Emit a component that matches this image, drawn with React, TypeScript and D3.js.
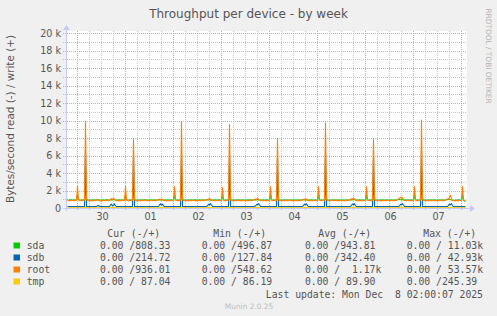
import React from 'react';
import * as d3 from 'd3';

const W = 497;
const H = 316;

const TITLE = 'Throughput per device - by week';
const Y_TITLE = 'Bytes/second read (-) / write (+)';
const WATERMARK = 'RRDTOOL / TOBI OETIKER';
const FOOTER = 'Munin 2.0.25';
const LAST_UPDATE = 'Last update: Mon Dec  8 02:00:07 2025';

// x axis day labels (noon of each day)
const DAY_LABELS = ['30', '01', '02', '03', '04', '05', '06', '07'];
const DAY_NOONS = [
  '2025-11-30T12:00', '2025-12-01T12:00', '2025-12-02T12:00', '2025-12-03T12:00',
  '2025-12-04T12:00', '2025-12-05T12:00', '2025-12-06T12:00', '2025-12-07T12:00',
];
// y ticks in thousands of bytes/s
const Y_TICKS = [0, 2, 4, 6, 8, 10, 12, 14, 16, 18, 20];

// time window
const VIEW_START = '2025-11-29T18:45';
const VIEW_END = '2025-12-08T02:45';
const DATA_START = '2025-11-29T19:00';
const STEP_MIN = 30; // sda, sdb, root sampled every 30 minutes
const TMP_STEP_MIN = 60; // tmp sampled hourly

const SERIES = ['sda', 'sdb', 'root', 'tmp'];
const COLORS = ['#00cc00', '#0066b3', '#ff8000', '#ffcc00'];

// write throughput in k bytes/s, every 30 min from Nov 29 19:00
const SDA = [
  0.98, 0.97, 0.97, 0.98, 0.99, 0.97, 0.96, 0.97, 0.98, 0.97,
  // Nov 30
  1.55, 1.0, 0.97, 0.96, 0.98, 0.97, 0.96, 0.98,
  2.6, 1.02, 0.97, 0.96, 0.97, 0.98, 0.96, 0.97,
  0.98, 0.96, 0.97, 0.99, 0.97, 0.96, 0.98, 0.97,
  0.96, 0.97, 0.98, 0.96, 0.97, 0.99, 0.97, 0.96,
  0.97, 0.98, 1.0, 0.99, 1.02, 1.0, 0.97, 0.96,
  0.97, 0.98, 0.96, 0.97, 0.98, 0.96, 0.97, 0.98,
  // Dec 1
  1.5, 0.99, 0.96, 0.97, 0.98, 0.96, 0.97, 0.98,
  2.5, 1.01, 0.96, 0.97, 0.98, 0.97, 0.96, 0.97,
  0.97, 0.98, 0.96, 0.97, 0.99, 0.97, 0.96, 0.98,
  0.97, 0.96, 0.98, 0.97, 0.96, 0.98, 0.97, 0.97,
  0.98, 0.97, 0.99, 1.01, 0.98, 1.0, 0.96, 0.97,
  0.96, 0.97, 0.98, 0.96, 0.97, 0.98, 0.97, 0.96,
  // Dec 2
  0.97, 1.6, 0.99, 0.96, 0.97, 0.98, 0.96, 0.97,
  2.6, 1.0, 0.97, 0.98, 0.96, 0.97, 0.98, 0.96,
  0.97, 0.96, 0.98, 0.97, 0.96, 0.97, 0.99, 0.97,
  0.98, 0.97, 0.96, 0.98, 0.97, 0.96, 0.97, 0.98,
  0.97, 0.99, 1.01, 0.98, 1.0, 0.99, 0.97, 0.96,
  0.98, 0.96, 0.97, 0.98, 0.96, 0.97, 0.97, 0.98,
  // Dec 3
  0.96, 1.5, 0.98, 0.97, 0.96, 0.98, 0.97, 0.96,
  2.55, 1.01, 0.96, 0.97, 0.98, 0.96, 0.97, 0.98,
  0.96, 0.98, 0.97, 0.96, 0.97, 0.98, 0.96, 0.97,
  0.97, 0.98, 0.96, 0.97, 0.99, 0.97, 0.96, 0.97,
  0.98, 0.97, 1.0, 0.99, 1.02, 0.98, 0.97, 0.96,
  0.97, 0.96, 0.98, 0.97, 0.96, 0.98, 0.97, 0.96,
  // Dec 4
  0.97, 1.55, 0.98, 0.96, 0.97, 0.97, 0.98, 0.96,
  2.4, 1.0, 0.97, 0.96, 0.98, 0.97, 0.96, 0.97,
  0.98, 0.97, 0.96, 0.98, 0.97, 0.96, 0.97, 0.98,
  0.96, 0.97, 0.97, 0.98, 0.96, 0.97, 0.98, 0.97,
  0.97, 0.98, 0.99, 1.0, 0.98, 1.01, 0.97, 0.96,
  0.98, 0.97, 0.96, 0.97, 0.98, 0.96, 0.97, 0.97,
  // Dec 5
  0.96, 1.6, 0.99, 0.97, 0.96, 0.98, 0.97, 0.97,
  2.6, 1.02, 0.96, 0.98, 0.97, 0.96, 0.97, 0.98,
  0.97, 0.96, 0.97, 0.98, 0.96, 0.97, 0.98, 0.96,
  0.97, 0.98, 0.97, 0.96, 0.97, 0.98, 0.96, 0.97,
  0.98, 0.97, 1.01, 0.99, 1.03, 1.0, 0.97, 0.96,
  0.97, 0.98, 0.96, 0.97, 0.96, 0.98, 0.97, 0.96,
  // Dec 6
  0.97, 1.5, 0.98, 0.96, 0.97, 0.96, 0.98, 0.97,
  2.45, 1.0, 0.97, 0.96, 0.97, 0.98, 0.96, 0.97,
  0.96, 0.97, 0.98, 0.97, 0.96, 0.97, 0.98, 0.97,
  0.97, 0.96, 0.98, 0.97, 0.96, 0.97, 0.97, 0.98,
  0.99, 1.02, 1.05, 1.0, 0.98, 1.03, 0.97, 0.96,
  0.97, 0.96, 0.98, 0.97, 0.97, 0.96, 0.98, 0.97,
  // Dec 7
  0.96, 1.6, 0.98, 0.97, 0.96, 0.97, 0.98, 0.96,
  2.65, 1.01, 0.97, 0.96, 0.98, 0.97, 0.96, 0.97,
  0.98, 0.97, 0.96, 0.97, 0.98, 0.96, 0.97, 0.97,
  0.96, 0.98, 0.97, 0.96, 0.97, 0.98, 0.97, 0.96,
  0.98, 0.99, 1.02, 1.04, 1.06, 1.0, 0.97, 0.95,
  0.92, 0.9, 0.97, 0.96, 0.97, 0.98, 0.96, 0.97,
  // Dec 8
  0.97, 1.55, 0.95, 0.88, 0.81,
];

const SDB = [
  0.21, 0.22, 0.21, 0.22, 0.22, 0.21, 0.22, 0.21, 0.22, 0.22,
  // Nov 30
  0.22, 0.21, 0.22, 0.22, 0.21, 0.22, 0.21, 0.22,
  6.5, 0.22, 0.21, 0.22, 0.22, 0.21, 0.22, 0.21,
  0.22, 0.22, 0.21, 0.22, 0.3, 0.35, 0.22, 0.21,
  0.22, 0.21, 0.22, 0.22, 0.21, 0.22, 0.21, 0.22,
  0.22, 0.4, 0.5, 0.3, 0.35, 0.55, 0.3, 0.22,
  0.22, 0.21, 0.22, 0.21, 0.22, 0.22, 0.21, 0.22,
  // Dec 1
  0.22, 0.21, 0.22, 0.22, 0.21, 0.22, 0.21, 0.22,
  6.0, 0.22, 0.21, 0.22, 0.22, 0.21, 0.22, 0.21,
  0.22, 0.22, 0.21, 0.22, 0.21, 0.22, 0.22, 0.21,
  0.22, 0.21, 0.22, 0.22, 0.21, 0.22, 0.21, 0.22,
  0.22, 0.23, 0.4, 0.52, 0.38, 0.5, 0.3, 0.22,
  0.22, 0.21, 0.22, 0.21, 0.22, 0.22, 0.21, 0.22,
  // Dec 2
  0.22, 0.21, 0.22, 0.22, 0.21, 0.22, 0.21, 0.22,
  6.3, 0.22, 0.21, 0.22, 0.22, 0.21, 0.22, 0.21,
  0.22, 0.22, 0.21, 0.22, 0.21, 0.22, 0.22, 0.21,
  0.22, 0.21, 0.22, 0.22, 0.21, 0.22, 0.21, 0.22,
  0.22, 0.23, 0.3, 0.48, 0.4, 0.56, 0.38, 0.23,
  0.22, 0.21, 0.22, 0.21, 0.22, 0.22, 0.21, 0.22,
  // Dec 3
  0.22, 0.21, 0.22, 0.22, 0.21, 0.22, 0.21, 0.22,
  6.2, 0.22, 0.21, 0.22, 0.22, 0.21, 0.22, 0.21,
  0.22, 0.22, 0.21, 0.22, 0.21, 0.22, 0.22, 0.21,
  0.22, 0.21, 0.22, 0.22, 0.21, 0.22, 0.21, 0.22,
  0.22, 0.22, 0.28, 0.45, 0.42, 0.55, 0.4, 0.24,
  0.22, 0.21, 0.22, 0.21, 0.22, 0.22, 0.21, 0.22,
  // Dec 4
  0.22, 0.21, 0.22, 0.22, 0.21, 0.22, 0.21, 0.22,
  5.8, 0.22, 0.21, 0.22, 0.22, 0.21, 0.22, 0.21,
  0.22, 0.22, 0.21, 0.22, 0.21, 0.22, 0.22, 0.21,
  0.22, 0.21, 0.22, 0.22, 0.21, 0.22, 0.21, 0.22,
  0.22, 0.23, 0.35, 0.5, 0.4, 0.54, 0.33, 0.22,
  0.22, 0.21, 0.22, 0.21, 0.22, 0.22, 0.21, 0.22,
  // Dec 5
  0.22, 0.21, 0.22, 0.22, 0.21, 0.22, 0.21, 0.22,
  6.4, 0.22, 0.21, 0.22, 0.22, 0.21, 0.22, 0.21,
  0.22, 0.22, 0.21, 0.22, 0.21, 0.22, 0.22, 0.21,
  0.22, 0.21, 0.22, 0.22, 0.21, 0.22, 0.21, 0.22,
  0.22, 0.23, 0.36, 0.52, 0.41, 0.55, 0.34, 0.22,
  0.22, 0.21, 0.22, 0.21, 0.22, 0.22, 0.21, 0.22,
  // Dec 6
  0.22, 0.21, 0.22, 0.22, 0.21, 0.22, 0.21, 0.22,
  5.9, 0.22, 0.21, 0.22, 0.22, 0.21, 0.22, 0.21,
  0.22, 0.22, 0.21, 0.22, 0.21, 0.22, 0.22, 0.21,
  0.22, 0.21, 0.22, 0.22, 0.21, 0.22, 0.21, 0.22,
  0.22, 0.22, 0.3, 0.48, 0.44, 0.56, 0.4, 0.24,
  0.22, 0.21, 0.22, 0.21, 0.22, 0.22, 0.21, 0.22,
  // Dec 7
  0.22, 0.21, 0.22, 0.22, 0.21, 0.22, 0.21, 0.22,
  6.6, 0.22, 0.21, 0.22, 0.22, 0.21, 0.22, 0.21,
  0.22, 0.22, 0.21, 0.22, 0.21, 0.22, 0.22, 0.21,
  0.22, 0.21, 0.22, 0.22, 0.21, 0.22, 0.21, 0.22,
  0.22, 0.22, 0.24, 0.36, 0.5, 0.42, 0.55, 0.3,
  0.22, 0.21, 0.22, 0.21, 0.22, 0.22, 0.21, 0.22,
  // Dec 8
  0.22, 0.21, 0.22, 0.22, 0.215,
];

const ROOT = [
  0.93, 0.9, 0.88, 0.92, 0.95, 0.91, 0.9, 0.88, 0.92, 0.94,
  // Nov 30
  2.55, 1.0, 0.92, 0.88, 0.9, 0.93, 0.91, 0.95,
  10.0, 1.05, 0.92, 0.88, 0.9, 0.87, 0.89, 0.93,
  0.9, 0.88, 0.92, 0.95, 1.05, 0.98, 0.9, 0.87,
  0.89, 0.92, 0.9, 0.88, 0.93, 0.96, 0.94, 0.9,
  0.97, 1.05, 1.12, 1.0, 1.18, 1.05, 0.95, 0.9,
  0.88, 0.91, 0.9, 0.87, 0.92, 0.95, 0.91, 0.89,
  // Dec 1
  2.55, 0.98, 0.9, 0.89, 0.93, 0.9, 0.88, 0.94,
  7.9, 1.02, 0.9, 0.87, 0.91, 0.89, 0.92, 0.9,
  0.88, 0.93, 0.9, 0.96, 0.92, 0.89, 0.91, 0.88,
  0.9, 0.94, 0.91, 0.89, 0.95, 0.92, 0.9, 0.93,
  0.96, 1.02, 1.08, 0.98, 1.1, 1.0, 0.93, 0.9,
  0.89, 0.92, 0.88, 0.9, 0.93, 0.9, 0.88, 0.91,
  // Dec 2
  0.95, 2.5, 0.96, 0.9, 0.88, 0.92, 0.9, 0.93,
  9.9, 1.03, 0.91, 0.88, 0.9, 0.92, 0.87, 0.9,
  0.93, 0.89, 0.9, 0.94, 0.91, 0.88, 0.92, 0.9,
  0.87, 0.91, 0.95, 0.9, 0.89, 0.93, 0.97, 0.92,
  0.95, 1.0, 1.06, 1.02, 1.15, 1.04, 0.94, 0.9,
  0.9, 0.88, 0.92, 0.89, 0.91, 0.94, 0.9, 0.88,
  // Dec 3
  0.93, 2.4, 0.95, 0.9, 0.92, 0.88, 0.91, 0.94,
  9.6, 1.04, 0.9, 0.88, 0.92, 0.9, 0.89, 0.91,
  0.88, 0.92, 0.95, 0.9, 0.87, 0.91, 0.93, 0.9,
  0.92, 0.89, 0.9, 0.95, 0.92, 0.88, 0.9, 0.94,
  0.98, 1.04, 1.1, 1.0, 1.2, 1.06, 0.95, 0.91,
  0.88, 0.9, 0.93, 0.89, 0.9, 0.92, 0.88, 0.9,
  // Dec 4
  0.92, 2.5, 0.97, 0.89, 0.91, 0.93, 0.88, 0.92,
  8.0, 1.02, 0.91, 0.89, 0.87, 0.9, 0.93, 0.9,
  0.91, 0.88, 0.9, 0.93, 0.96, 0.91, 0.89, 0.9,
  0.93, 0.9, 0.88, 0.91, 0.94, 0.9, 0.92, 0.89,
  0.95, 1.01, 1.07, 0.99, 1.14, 1.03, 0.93, 0.9,
  0.91, 0.88, 0.9, 0.92, 0.89, 0.91, 0.93, 0.9,
  // Dec 5
  0.91, 2.5, 0.96, 0.9, 0.88, 0.92, 0.91, 0.93,
  9.8, 1.05, 0.92, 0.89, 0.9, 0.88, 0.91, 0.94,
  0.9, 0.88, 0.91, 0.93, 0.9, 0.87, 0.92, 0.95,
  0.91, 0.89, 0.93, 0.9, 0.88, 0.92, 0.95, 0.91,
  0.97, 1.03, 1.12, 1.01, 1.22, 1.08, 0.96, 0.9,
  0.89, 0.91, 0.88, 0.92, 0.9, 0.88, 0.91, 0.92,
  // Dec 6
  0.92, 2.5, 0.95, 0.91, 0.89, 0.92, 0.9, 0.93,
  7.9, 1.03, 0.9, 0.88, 0.91, 0.89, 0.92, 0.9,
  0.87, 0.9, 0.93, 0.91, 0.88, 0.9, 0.94, 0.91,
  0.89, 0.92, 0.9, 0.88, 0.93, 0.91, 0.9, 0.95,
  1.0, 1.08, 1.18, 1.3, 1.15, 1.22, 1.0, 0.92,
  0.9, 0.88, 0.91, 0.93, 0.9, 0.89, 0.92, 0.9,
  // Dec 7
  0.91, 2.5, 0.96, 0.9, 0.92, 0.89, 0.91, 0.94,
  10.1, 1.04, 0.91, 0.88, 0.9, 0.92, 0.89, 0.9,
  0.93, 0.9, 0.88, 0.91, 0.94, 0.9, 0.89, 0.92,
  0.9, 0.88, 0.92, 0.95, 0.91, 0.89, 0.93, 0.9,
  0.96, 1.02, 1.1, 1.05, 1.25, 1.5, 1.12, 0.95,
  0.9, 0.92, 0.89, 0.91, 0.9, 0.88, 0.92, 0.91,
  // Dec 8
  0.93, 2.5, 0.97, 0.92, 0.94,
];

// tmp, hourly from Nov 29 19:00
const TMP = [
  0.088, 0.087, 0.088, 0.087, 0.088,
  0.088, 0.087, 0.088, 0.088, 0.095, 0.088, 0.087, 0.088, 0.087, 0.088, 0.088, 0.087, 0.088, 0.088, 0.087, 0.088, 0.088, 0.1, 0.12, 0.09, 0.088, 0.087, 0.088, 0.088,
  0.088, 0.087, 0.088, 0.088, 0.095, 0.088, 0.087, 0.088, 0.088, 0.087, 0.088, 0.088, 0.087, 0.088, 0.088, 0.087, 0.088, 0.1, 0.13, 0.09, 0.088, 0.087, 0.088, 0.088,
  0.088, 0.087, 0.088, 0.088, 0.096, 0.088, 0.087, 0.088, 0.088, 0.087, 0.088, 0.088, 0.087, 0.088, 0.088, 0.087, 0.088, 0.1, 0.12, 0.09, 0.088, 0.087, 0.088, 0.088,
  0.088, 0.087, 0.088, 0.088, 0.095, 0.088, 0.087, 0.088, 0.088, 0.087, 0.088, 0.088, 0.087, 0.088, 0.088, 0.087, 0.088, 0.1, 0.14, 0.09, 0.088, 0.087, 0.088, 0.088,
  0.088, 0.087, 0.088, 0.088, 0.095, 0.088, 0.087, 0.088, 0.088, 0.087, 0.088, 0.088, 0.087, 0.088, 0.088, 0.087, 0.088, 0.1, 0.12, 0.09, 0.088, 0.087, 0.088, 0.088,
  0.088, 0.087, 0.088, 0.088, 0.096, 0.088, 0.087, 0.088, 0.088, 0.087, 0.088, 0.088, 0.087, 0.088, 0.088, 0.087, 0.088, 0.1, 0.13, 0.09, 0.088, 0.087, 0.088, 0.088,
  0.088, 0.087, 0.088, 0.088, 0.095, 0.088, 0.087, 0.088, 0.088, 0.087, 0.088, 0.088, 0.087, 0.088, 0.088, 0.087, 0.088, 0.1, 0.245, 0.09, 0.088, 0.087, 0.088, 0.088,
  0.088, 0.087, 0.088, 0.088, 0.095, 0.088, 0.087, 0.088, 0.088, 0.087, 0.088, 0.088, 0.087, 0.088, 0.088, 0.087, 0.088, 0.1, 0.15, 0.09, 0.088, 0.087, 0.088, 0.088,
  0.088, 0.087, 0.087,
];

const WRITE_DATA = [SDA, SDB, ROOT, TMP];
const STEPS = [STEP_MIN, STEP_MIN, STEP_MIN, TMP_STEP_MIN];

// legend columns
const LEGEND_HEADERS = ['Cur (-/+)', 'Min (-/+)', 'Avg (-/+)', 'Max (-/+)'];
const CUR = ['0.00 /808.33', '0.00 /214.72', '0.00 /936.01', '0.00 / 87.04'];
const MIN = ['0.00 /496.87', '0.00 /127.84', '0.00 /548.62', '0.00 / 86.19'];
const AVG = ['0.00 /943.81', '0.00 /342.40', '0.00 /  1.17k', '0.00 / 89.90'];
const MAX = ['0.00 / 11.03k', '0.00 / 42.93k', '0.00 / 53.57k', '0.00 /245.39'];

const PLOT = { left: 67, right: 467, top: 33.5, bottom: 208.5 };
const SANS = "'DejaVu Sans', Verdana, sans-serif";
const MONO = "'DejaVu Sans Mono', monospace";
const TEXT = '#555555';

export default function App() {
  const parse = (s: string) => new Date(s);
  const x = d3.scaleTime().domain([parse(VIEW_START), parse(VIEW_END)]).range([PLOT.left, PLOT.right]);
  const y = d3.scaleLinear().domain([0, 20]).range([PLOT.bottom, PLOT.top]);
  const t0 = parse(DATA_START).getTime();
  const timeAt = (i: number, stepMin: number) => new Date(t0 + i * stepMin * 60 * 1000);

  const makeLine = (stepMin: number) =>
    d3
      .line<number>()
      .x((_, i) => x(timeAt(i, stepMin)))
      .y((d) => y(d));

  const crisp = (v: number) => Math.floor(v) + 0.5;

  const minorX = d3.timeHour.every(6)!.range(parse(VIEW_START), parse(VIEW_END));
  const majorX = d3.timeDay.range(parse(VIEW_START), parse(VIEW_END));
  const minorY = d3.range(1, 21, 2);

  const colX = [100, 201.7, 305, 406.7];
  const headX = [107.3, 213.3, 318.3, 423.3];
  const cols = [CUR, MIN, AVG, MAX];
  const rowY = [249, 261, 273, 285];

  return (
    <svg
      width={W}
      height={H}
      style={{ position: 'absolute', left: 0, top: 0, display: 'block' }}
      xmlns="http://www.w3.org/2000/svg"
    >
      <rect x={0} y={0} width={W} height={H} fill="#f0f0f0" />
      <rect x={PLOT.left} y={31} width={PLOT.right - PLOT.left} height={PLOT.bottom - 31} fill="#ffffff" />

      {/* minor grid */}
      <g stroke="#c4c4c4" strokeWidth={1} strokeDasharray="1,1" fill="none">
        {minorX.map((t, i) => (
          <line key={'mx' + i} x1={crisp(x(t))} x2={crisp(x(t))} y1={31} y2={211} />
        ))}
        {minorY.map((v) => (
          <line key={'my' + v} x1={63} x2={PLOT.right} y1={crisp(y(v))} y2={crisp(y(v))} />
        ))}
      </g>
      {/* major grid */}
      <g stroke="#f09a9a" strokeWidth={1} strokeDasharray="1,1" fill="none">
        {majorX.map((t, i) => (
          <line key={'Mx' + i} x1={crisp(x(t))} x2={crisp(x(t))} y1={31} y2={211} />
        ))}
        {Y_TICKS.filter((v) => v > 0).map((v) => (
          <line key={'My' + v} x1={63} x2={PLOT.right} y1={crisp(y(v))} y2={crisp(y(v))} />
        ))}
      </g>

      {/* read (negative) series, all zero */}
      {COLORS.map((c, k) => (
        <line
          key={'r' + k}
          x1={x(timeAt(0, STEPS[k]))}
          x2={x(timeAt(WRITE_DATA[k].length - 1, STEPS[k]))}
          y1={y(0)}
          y2={y(0)}
          stroke={c}
          strokeWidth={1}
        />
      ))}
      {/* write series */}
      {WRITE_DATA.map((d, k) => (
        <path
          key={'w' + k}
          d={makeLine(STEPS[k])(d) || ''}
          fill="none"
          stroke={COLORS[k]}
          strokeWidth={1.1}
          strokeLinejoin="round"
        />
      ))}

      {/* axes */}
      <g stroke="#c8c8f4" strokeWidth={1} fill="none">
        <line x1={63} x2={471} y1={208.5} y2={208.5} />
        <line x1={66.5} x2={66.5} y1={211} y2={29} />
      </g>
      <polygon points="470,205 475,208.5 470,212" fill="#c8c8f4" />
      <polygon points="63,30 66.5,25 70,30" fill="#c8c8f4" />

      {/* y tick labels */}
      {Y_TICKS.map((v) => (
        <text key={'yl' + v} x={61} y={y(v)} dy="0.35em" textAnchor="end" fontFamily={SANS} fontSize={9.6} fill={TEXT}>
          {v === 0 ? '0' : `${v} k`}
        </text>
      ))}
      {/* x tick labels */}
      {DAY_LABELS.map((lab, i) => (
        <text key={'xl' + i} x={x(parse(DAY_NOONS[i])) + 1} y={220} textAnchor="middle" fontFamily={SANS} fontSize={9.6} fill={TEXT}>
          {lab}
        </text>
      ))}

      {/* titles */}
      <text x={248.5} y={17.5} textAnchor="middle" fontFamily={SANS} fontSize={12} fill={TEXT}>
        {TITLE}
      </text>
      <text transform="translate(14,119) rotate(-90)" textAnchor="middle" fontFamily={SANS} fontSize={10.4} fill={TEXT}>
        {Y_TITLE}
      </text>
      <text transform="translate(485.5,56) rotate(90)" textAnchor="middle" fontFamily={SANS} fontSize={7.4} fill="#b4b4b4">
        {WATERMARK}
      </text>

      {/* legend */}
      {LEGEND_HEADERS.map((h, i) => (
        <text key={'h' + i} x={headX[i]} y={236.8} fontFamily={MONO} fontSize={9.75} fill={TEXT} style={{ whiteSpace: 'pre' }}>
          {h}
        </text>
      ))}
      {SERIES.map((s, k) => (
        <g key={'lg' + k}>
          <rect x={13.5} y={rowY[k] - 6.5} width={6.5} height={6} fill={COLORS[k]} />
          <text x={26.7} y={rowY[k]} fontFamily={MONO} fontSize={9.75} fill={TEXT}>
            {s}
          </text>
          {cols.map((col, ci) => (
            <text key={'v' + ci} x={colX[ci]} y={rowY[k]} fontFamily={MONO} fontSize={9.75} fill={TEXT} style={{ whiteSpace: 'pre' }}>
              {col[k]}
            </text>
          ))}
        </g>
      ))}
      <text x={483} y={297.8} textAnchor="end" fontFamily={MONO} fontSize={9.75} fill={TEXT} style={{ whiteSpace: 'pre' }}>
        {LAST_UPDATE}
      </text>
      <text x={249} y={308.5} textAnchor="middle" fontFamily={SANS} fontSize={7.4} fill="#bcbcbc">
        {FOOTER}
      </text>
    </svg>
  );
}
